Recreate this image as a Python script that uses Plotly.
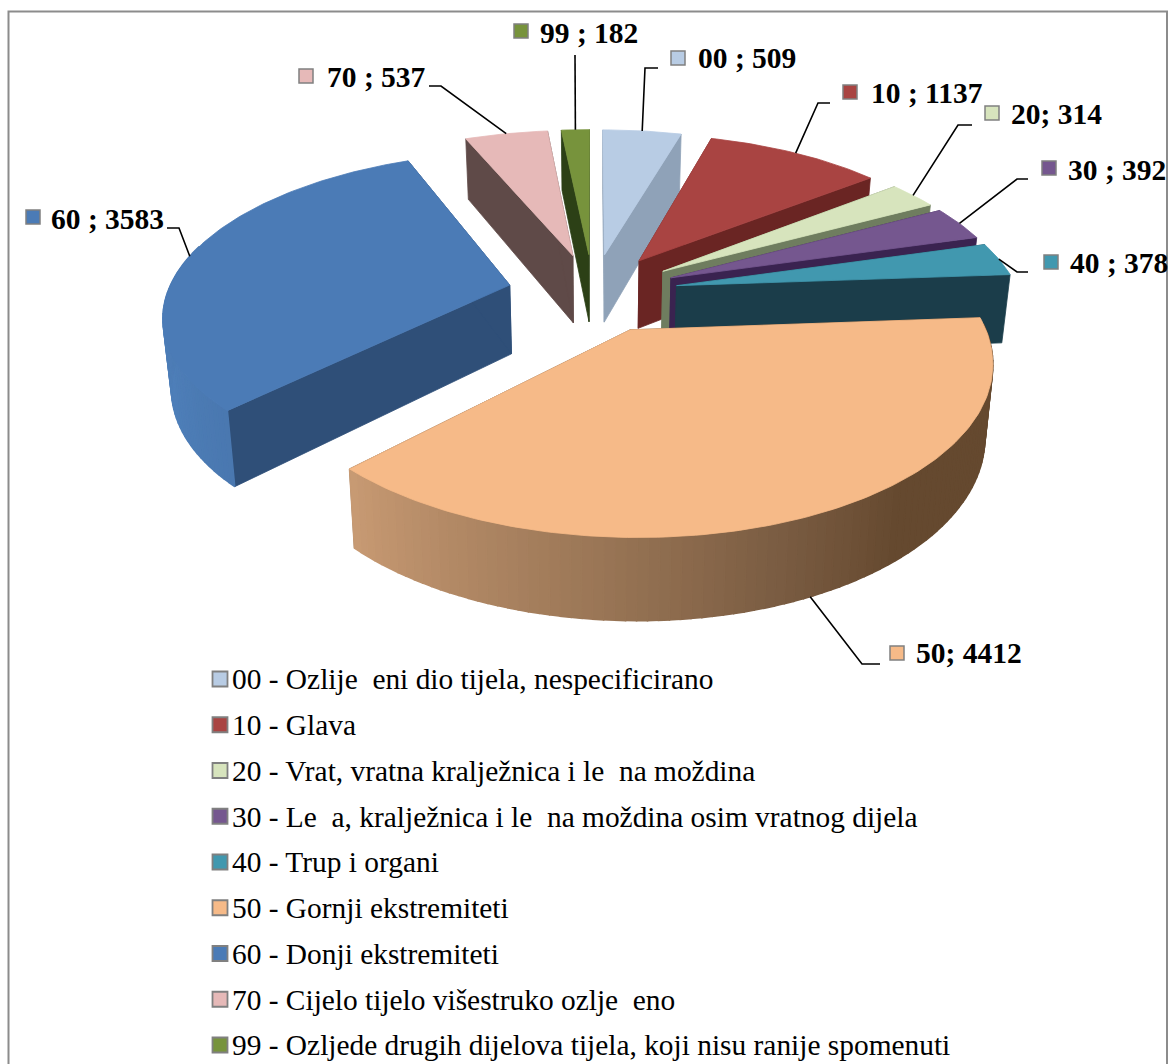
import numpy as np
import plotly.graph_objects as go

# ---- data ----
codes = ["00", "10", "20", "30", "40", "50", "60", "70", "99"]
values = [509, 1137, 314, 392, 378, 4412, 3583, 537, 182]
label_texts = ["00 ; 509", "10 ; 1137", "20; 314", "30 ; 392", "40 ; 378",
               "50; 4412", "60 ; 3583", "70 ; 537", "99 ; 182"]
legend_names = [
    "00 - Ozlije\u00a0\u00a0eni dio tijela, nespecificirano",
    "10 - Glava",
    "20 - Vrat, vratna kralježnica i le\u00a0\u00a0na moždina",
    "30 - Le\u00a0\u00a0a, kralježnica i le\u00a0\u00a0na moždina osim vratnog dijela",
    "40 - Trup i organi",
    "50 - Gornji ekstremiteti",
    "60 - Donji ekstremiteti",
    "70 - Cijelo tijelo višestruko ozlje\u00a0\u00a0eno",
    "99 - Ozljede drugih dijelova tijela, koji nisu ranije spomenuti",
]
top_colors = ["#b8cce4", "#a94442", "#d7e4bd", "#75578f", "#4198af",
              "#f6ba88", "#4b7bb6", "#e6b9b8", "#77933c"]
wall_colors = ["#8fa2b8", "#6a2523", "#6f7d5f", "#3a2350", "#1b3d4a",
               "#65492f", "#2f4f78", "#5f4a48", "#2c4016"]

# ---- layout / style ----
FONT = "Liberation Serif"
EXPLODE, CX, CY, SX, SY, PERSP = 0.25, 593.0, 292.5, 342.0, 158.0, 0.17
VX = 595.0
label_square_xy = [(678, 58), (850, 92), (992, 113), (1049, 168), (1051, 262),
                   (897, 653), (33, 217), (306, 76), (521, 31)]
label_text_xy = [(698, 61), (871, 96), (1011, 117), (1068, 173), (1070, 266),
                 (916, 656), (51, 222), (327, 80), (540, 36)]
label_elbows = [[(645, 68), (658, 68)], [(818, 103), (830, 103)], [(958, 125), (972, 125)],
                [(1017, 179), (1028, 179)], [(1017, 272), (1028, 272)], [(862, 664), (880, 664)],
                [(179, 228), (167, 228)], [(441, 86), (429, 86)], [(575, 55)]]
LEG_X, LEG_TEXT_X, LEG_Y0, LEG_DY = 220, 232, 679, 45.75


def project(theta_deg, radius, mid_deg):
    t, m = np.radians(theta_deg), np.radians(mid_deg)
    u = radius * np.sin(t) + EXPLODE * np.sin(m)
    v = -radius * np.cos(t) - EXPLODE * np.cos(m)
    d = 1 - PERSP * v
    return CX + SX * u / d, CY + SY * v / d


def drop(x, y):
    return VX + (x - VX) * 0.98, y + 52.6 + 0.057 * y


def hexrgb(c):
    return np.array([int(c[i:i + 2], 16) for i in (1, 3, 5)], float)


def shade(theta, stops):
    th = [s[0] for s in stops]
    rgb = [hexrgb(s[1]) for s in stops]
    return "rgb(%d,%d,%d)" % tuple(np.interp(theta, th, [c[i] for c in rgb]) for i in range(3))


arc_shades = {
    "50": [(86, "#65492f"), (140, "#65492f"), (160, "#7a5c42"), (185, "#9a7656"), (225, "#c99b74")],
    "60": [(224, "#4a78b0"), (250, "#4f80ba"), (285, "#4a78b0")],
}

fig = go.Figure()


def poly(xs, ys, color, lw=0.8, lc=None):
    fig.add_trace(go.Scatter(x=list(xs) + [xs[0]], y=list(ys) + [ys[0]], mode="lines", fill="toself",
                             fillcolor=color, line=dict(color=lc or color, width=lw),
                             hoverinfo="skip", showlegend=False))


total = sum(values)
ends = np.cumsum(values) / total * 360
starts = np.concatenate([[0], ends[:-1]])
draw_order = ["00", "99", "70", "10", "20", "30", "40", "60", "50"]
for code in draw_order:
    i = codes.index(code)
    a0, a1 = starts[i], ends[i]
    mid = (a0 + a1) / 2
    ax, ay = project(0, 0, mid)
    abx, aby = drop(ax, ay)
    for edge in (a0, a1):
        ex, ey = project(edge, 1, mid)
        bx, by = drop(ex, ey)
        poly([ax, ex, bx, abx], [ay, ey, by, aby], wall_colors[i])
    if code in arc_shades:
        lo, hi = max(a0, 88), min(a1, 285)
        steps = np.linspace(lo, hi, int((hi - lo) / 1.5) + 2)
        for s0, s1 in zip(steps[:-1], steps[1:]):
            x0, y0 = project(s0, 1, mid)
            x1, y1 = project(s1, 1, mid)
            bx0, by0 = drop(x0, y0)
            bx1, by1 = drop(x1, y1)
            col = shade((s0 + s1) / 2, arc_shades[code])
            poly([x0, x1, bx1, bx0], [y0, y1, by1, by0], col, lw=1.5)
    th = np.linspace(a0, a1, max(int(a1 - a0), 2) + 1)
    px, py = project(th, 1, mid)
    poly([ax] + list(px), [ay] + list(py), top_colors[i], lw=0.8)

# leader lines: they start on the slice edge given by the value's mid angle
for i, code in enumerate(codes):
    mid = (starts[i] + ends[i]) / 2
    sx, sy = project(mid, 1, mid)
    if code == "50":
        sx, sy = drop(sx, sy)
    pts = [(sx, sy)] + label_elbows[i]
    fig.add_trace(go.Scatter(x=[p[0] for p in pts], y=[p[1] for p in pts], mode="lines",
                             line=dict(color="black", width=1.6), hoverinfo="skip", showlegend=False))

# slice labels
fig.add_trace(go.Scatter(
    x=[p[0] for p in label_square_xy], y=[p[1] for p in label_square_xy], mode="markers",
    marker=dict(symbol="square", size=14, color=top_colors, line=dict(color="#808080", width=1.5)),
    hoverinfo="skip", showlegend=False))
fig.add_trace(go.Scatter(
    x=[p[0] for p in label_text_xy], y=[p[1] for p in label_text_xy], mode="text",
    text=["<b>%s</b>" % t for t in label_texts], textposition="middle right",
    textfont=dict(family=FONT, size=29.5, color="black"), hoverinfo="skip", showlegend=False))

# legend rows
leg_y = [LEG_Y0 + k * LEG_DY for k in range(len(codes))]
fig.add_trace(go.Scatter(
    x=[LEG_X] * len(codes), y=leg_y, mode="markers",
    marker=dict(symbol="square", size=15, color=top_colors, line=dict(color="#808080", width=1.8)),
    hoverinfo="skip", showlegend=False))
fig.add_trace(go.Scatter(
    x=[LEG_TEXT_X] * len(codes), y=[y + 3 for y in leg_y], mode="text",
    text=legend_names, textposition="middle right",
    textfont=dict(family=FONT, size=29.4, color="black"), hoverinfo="skip", showlegend=False))

fig.update_layout(
    width=1170, height=1064, margin=dict(l=0, r=0, t=0, b=0),
    paper_bgcolor="white", plot_bgcolor="white", showlegend=False,
    xaxis=dict(range=[0, 1170], visible=False, fixedrange=True),
    yaxis=dict(range=[1064, 0], visible=False, fixedrange=True),
    shapes=[dict(type="rect", xref="x", yref="y", x0=8.5, y0=11.5, x1=1167, y1=1075,
                 line=dict(color="#8c8c8c", width=2), layer="below")],
)
fig.write_html("out.html", config={"displayModeBar": False},
               post_script="document.body.style.margin='0';document.body.style.overflow='hidden';")
